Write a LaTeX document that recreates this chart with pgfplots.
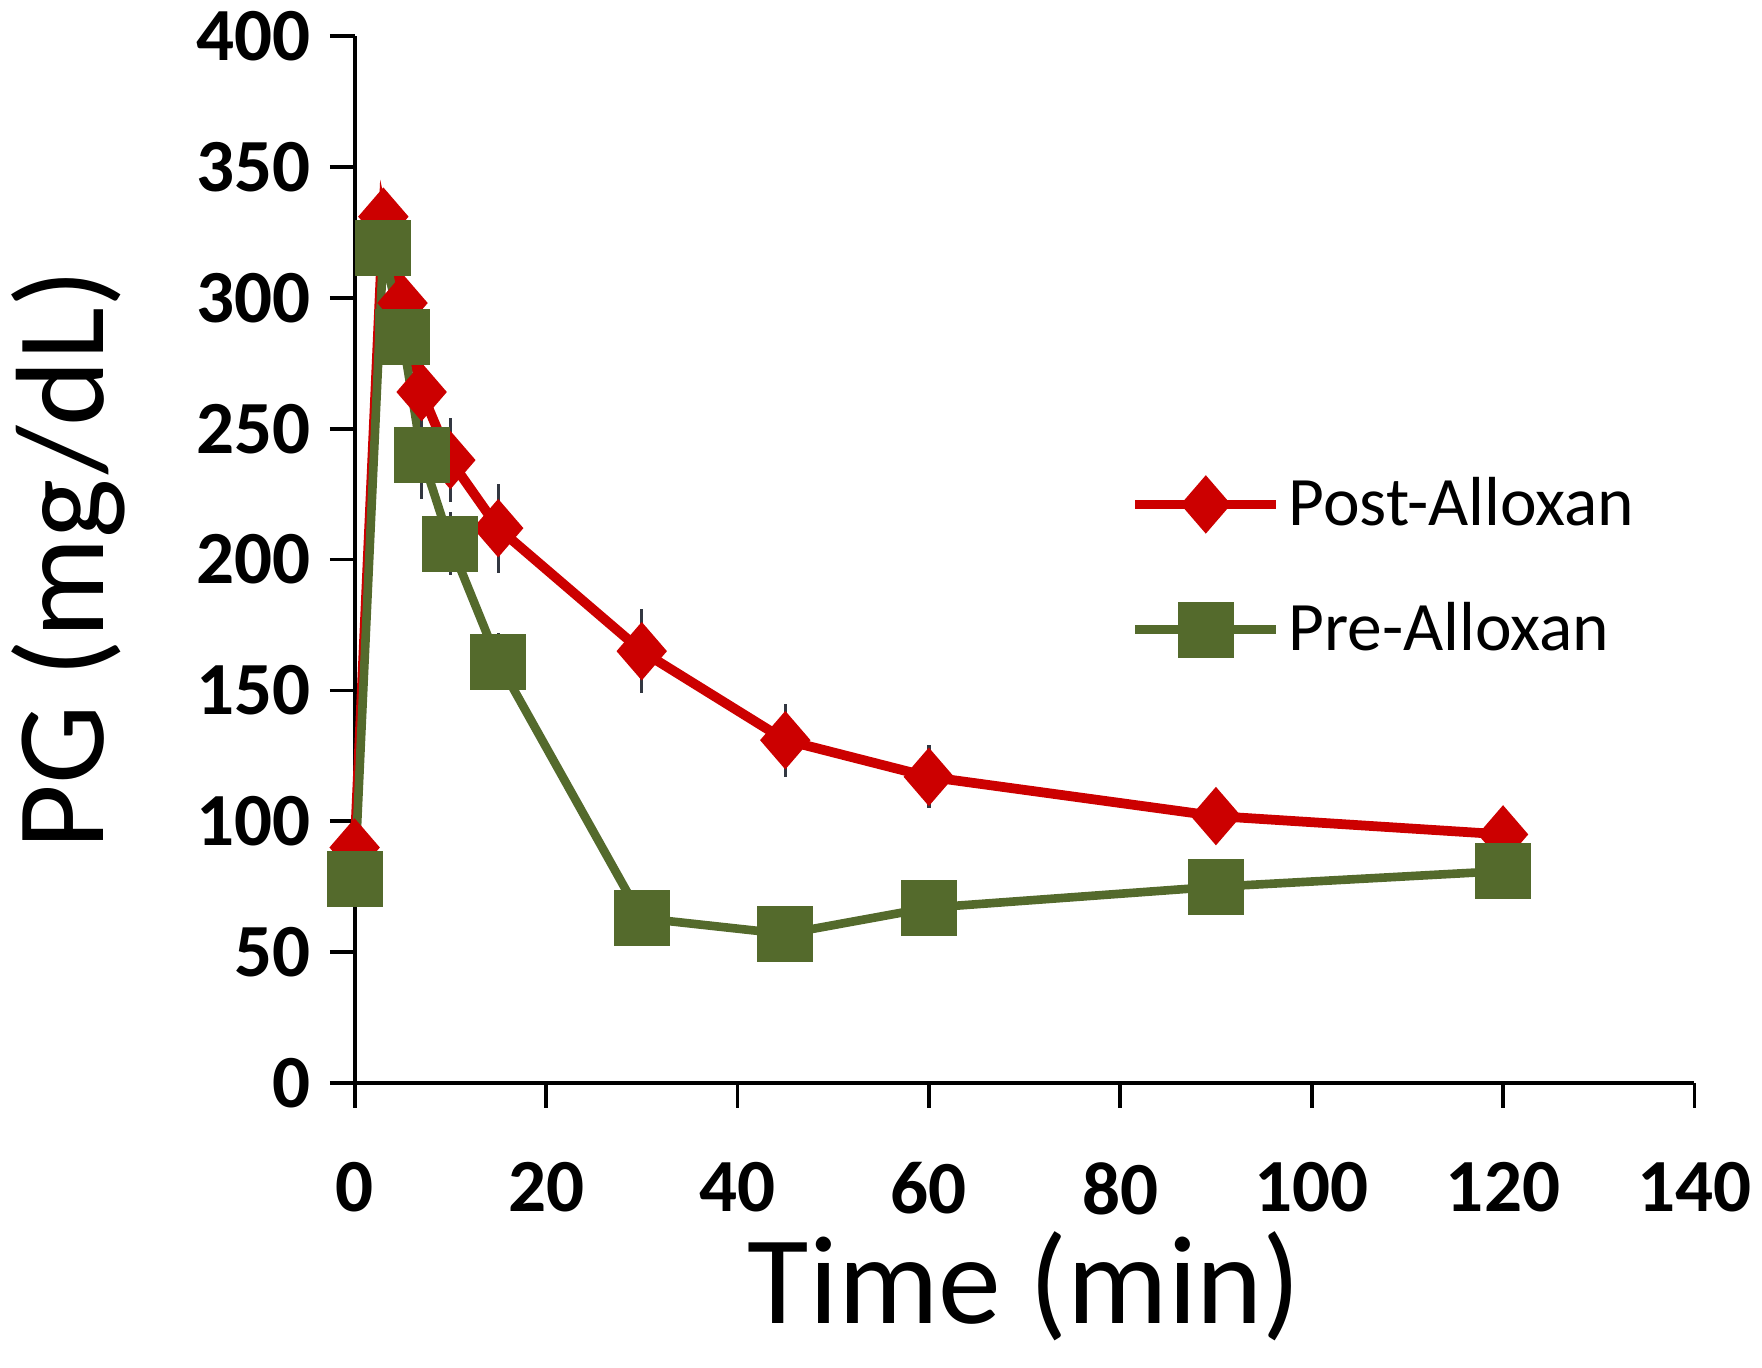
\documentclass[border=0pt]{standalone}
\usepackage{pgfplots}
\pgfplotsset{compat=1.18}
\usepackage{fontspec}
\setmainfont{Carlito}
\definecolor{postred}{RGB}{204,0,0}
\definecolor{pregreen}{RGB}{84,106,44}
\definecolor{errgray}{RGB}{50,55,65}
\begin{document}
\begin{tikzpicture}
\useasboundingbox (0,0) rectangle (469.5pt,364.5pt);
\begin{axis}[
  at={(94.5pt,75.9pt)}, anchor=south west,
  width=357pt, height=279pt, scale only axis,
  xmin=0, xmax=140, ymin=0, ymax=400,
  xtick={0,20,...,140}, ytick={0,50,...,400},
  axis lines*=left,
  axis line style={line width=1pt, black},
  tick style={line width=1pt, black},
  tick align=outside, major tick length=6.6pt,
  /pgf/number format/assume math mode=true,
  ticklabel style={font=\bfseries\fontsize{20}{20}\selectfont},
  xticklabel style={yshift=-11pt},
  yticklabel style={xshift=-1.5pt},
  xlabel={Time (min)}, ylabel={PG (mg/dL)},
  label style={font=\fontsize{33.5}{33.5}\selectfont},
  xlabel style={at={(axis description cs:0.5,-0.194)}, anchor=center},
  ylabel style={at={(axis description cs:-0.214,0.5)}, anchor=center, rotate=0},
  clip=false,
  legend style={at={(axis cs:81.0,234.5)}, anchor=north west, draw=none, fill=none,
    font=\fontsize{18.5}{18.5}\selectfont, row sep=15pt, inner sep=0pt},
  legend cell align=left,
  legend image code/.code={
    \draw[mark repeat=2, mark phase=2] plot coordinates {(0pt,0pt) (18.75pt,0pt) (37.5pt,0pt)};
  },
  error bars/y dir=both, error bars/y explicit,
  error bars/error mark=none,
  error bars/error bar style={line width=0.9pt, errgray},
]
\addplot[color=postred, line width=2.6pt, mark=diamond*, mark size=5.8pt,
  mark options={xscale=1.15, solid}]
  table[x=t, y=pg, y error=err] {
t pg err
0 90 3
3 331 10
5 298 8
7 264 10
10 238 16
15 212 17
30 165 16
45 131 14
60 117 12
90 102 10
120 95 3
};
\addlegendentry{Post-Alloxan}
\addplot[color=pregreen, line width=2.3pt, mark=square*, mark size=6.3pt,
  mark options={solid}]
  table[x=t, y=pg, y error=err] {
t pg err
0 78 3
3 319 8
5 285 8
7 240 17
10 206 12
15 161 11
30 63 5
45 57 3
60 67 3
90 75 3
120 81 3
};
\addlegendentry{Pre-Alloxan}
\end{axis}
\end{tikzpicture}
\end{document}
